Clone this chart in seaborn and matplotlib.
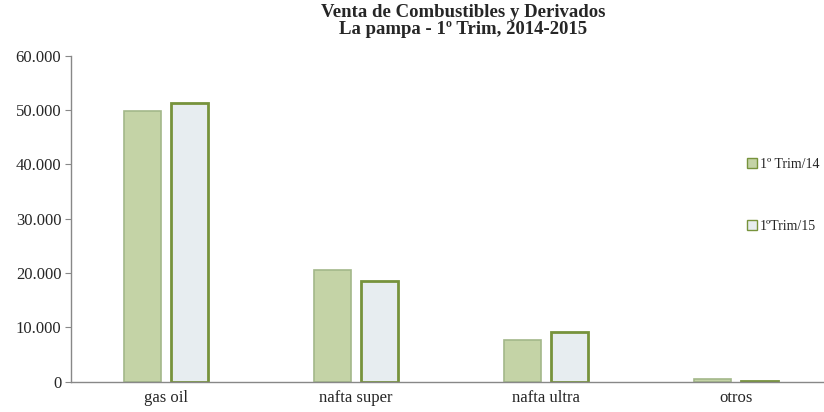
import numpy as np
import pandas as pd
import matplotlib
matplotlib.use("Agg")
import matplotlib.pyplot as plt
import matplotlib.ticker as mticker
import seaborn as sns

# datos
categorias = ["gas oil", "nafta super", "nafta ultra", "otros"]
periodos = ["1º Trim/14", "1ºTrim/15"]
trim14 = [49900, 20500, 7700, 500]
trim15 = [51300, 18600, 9200, 200]

df = pd.DataFrame({
    "categoria": categorias * 2,
    "periodo": [periodos[0]] * 4 + [periodos[1]] * 4,
    "valor": trim14 + trim15,
})

sns.set_style("white")
plt.rcParams["font.family"] = ["Liberation Serif", "DejaVu Serif"]

fig = plt.figure(figsize=(8.24, 4.12), dpi=100)
ax = fig.add_axes([71 / 824, 30.3 / 412, 753 / 824, 326 / 412])

caras = {periodos[0]: "#c6da9e", periodos[1]: "#e5edf1"}
sns.barplot(data=df, x="categoria", y="valor", hue="periodo", palette=caras,
            width=0.5, gap=0.22, ax=ax, legend=True)

bordes = ["#a3b88a", "#77933c"]
grosor = [1.2, 2.0]
for cont, ec, lw in zip(ax.containers, bordes, grosor):
    for barra in cont:
        barra.set_edgecolor(ec)
        barra.set_linewidth(lw)

ax.set_ylim(0, 60000)
ax.set_xlim(-0.5, 3.5 - 7 / 190)
ax.yaxis.set_major_locator(mticker.MultipleLocator(10000))
ax.yaxis.set_major_formatter(mticker.FuncFormatter(
    lambda v, p: "0" if v == 0 else f"{int(v):,}".replace(",", ".")))

ax.set_xticks(range(len(categorias)))
ax.set_xticklabels(categorias)
ax.set_xticks([0.5, 1.5, 2.5], minor=True)
ax.tick_params(axis="x", which="major", length=0, labelsize=12, pad=6)
ax.tick_params(axis="x", which="minor", length=4, color="#888888", direction="out")
ax.tick_params(axis="y", length=4, color="#888888", direction="out",
               labelsize=12, left=True, pad=3)
ax.set_xlabel("")
ax.set_ylabel("")

for lado in ["top", "right"]:
    ax.spines[lado].set_visible(False)
for lado in ["left", "bottom"]:
    ax.spines[lado].set_color("#888888")
    ax.spines[lado].set_linewidth(1.0)

fig.text(463 / 824, 1 - 21 / 412,
         "Venta de Combustibles y Derivados\nLa pampa - 1º Trim, 2014-2015",
         ha="center", va="center", fontsize=13.5, fontweight="bold", linespacing=0.95)

leg = ax.legend(loc="upper left", bbox_to_anchor=(747 / 824, 1 - 158 / 412),
                bbox_transform=fig.transFigure, frameon=False, fontsize=10,
                handlelength=0.7, handleheight=0.7, handletextpad=0.2,
                labelspacing=3.5, borderaxespad=0, borderpad=0)
for h in leg.legend_handles:
    h.set_edgecolor("#77933c")
    h.set_linewidth(1.0)

fig.savefig("out.png", dpi=100)
